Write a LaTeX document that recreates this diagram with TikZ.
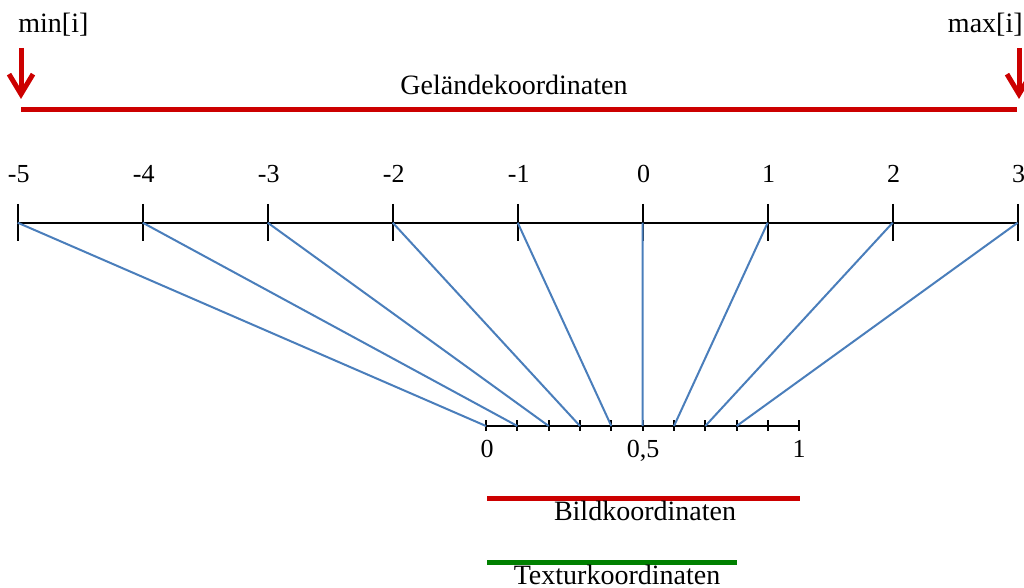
\documentclass[tikz,border=0pt]{standalone}
\usepackage{fontspec}
\setmainfont{Liberation Serif}
\usetikzlibrary{arrows.meta}
\definecolor{dred}{RGB}{204,0,0}
\definecolor{lblue}{RGB}{74,126,187}
\definecolor{dgreen}{RGB}{0,128,0}
\begin{document}
\begin{tikzpicture}[x=0.5pt,y=-0.5pt,
  lbl/.style={font=\fontsize{14}{16}\selectfont, inner sep=0pt, anchor=base},
  num/.style={font=\fontsize{13}{15}\selectfont, inner sep=0pt, anchor=base},
  axisline/.style={black, line width=1pt},
  tickmark/.style={black, line width=1pt},
  proj/.style={lblue, line width=1pt},
  redbar/.style={dred, line width=2.5pt},
  greenbar/.style={dgreen, line width=2.5pt},
  downarrow/.style={dred, line width=2.5pt, -{Straight Barb[length=10pt,width=12pt]}}]
\useasboundingbox (0,0) rectangle (1024,588);

% top labels and red extent
\node[lbl, anchor=base west] (minlbl) at (18,33) {min[i]};
\node[lbl, anchor=base east] (maxlbl) at (1023,33) {max[i]};
\coordinate (minA) at (21,48);
\coordinate (minB) at (21,99);
\coordinate (maxA) at (1019,48);
\coordinate (maxB) at (1019,99);
\draw[downarrow] (minA) -- (minB);
\draw[downarrow] (maxA) -- (maxB);
\coordinate (gL) at (21,110);
\coordinate (gR) at (1017,110);
\draw[redbar] (gL) -- (gR);
\node[lbl] (glbl) at (514,95) {Geländekoordinaten};

% top axis
\foreach \i/\l in {0/-5,1/-4,2/-3,3/-2,4/-1,5/0,6/1,7/2,8/3}{
  \coordinate (T\i) at ({17.7+125*\i},222.7);
  \draw[tickmark] (T\i) ++(0,-18.7) -- ++(0,37);
  \node[num] (TL\i) at ({18.7+125*\i},183) {\l};
}
\draw[axisline] (T0) -- (T8);

% bottom axis
\foreach \j in {0,...,10}{
  \coordinate (B\j) at ({486+31.33*\j},426);
  \draw[tickmark] (B\j) ++(0,-5.5) -- ++(0,11);
}
\draw[axisline] (B0) -- (B10);
\node[num] (BL0) at (487,458) {0};
\node[num] (BL5) at (643,458) {0,5};
\node[num] (BL10) at (799,458) {1};

% projection lines
\foreach \i in {0,...,8}{
  \draw[proj] (T\i) -- (B\i);
}

% image coordinates
\coordinate (bL) at (487,499);
\coordinate (bR) at (800,499);
\draw[redbar] (bL) -- (bR);
\node[lbl] (blbl) at (645,521) {Bildkoordinaten};

% texture coordinates
\coordinate (tL) at (487,562);
\coordinate (tR) at (737,562);
\draw[greenbar] (tL) -- (tR);
\node[lbl] (tlbl) at (617,584) {Texturkoordinaten};
\end{tikzpicture}
\end{document}
